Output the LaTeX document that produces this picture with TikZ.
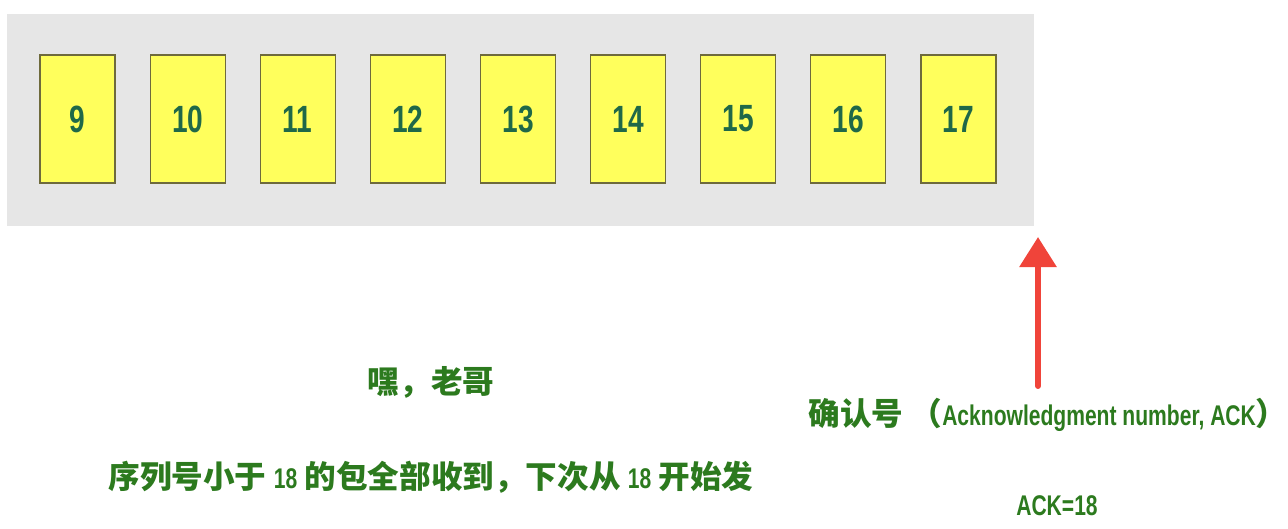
\documentclass[tikz,border=0pt]{standalone}
\usepackage{fontspec}
\newfontfamily\cjk{Noto Sans CJK SC}
\newfontfamily\latn{Liberation Sans}[Scale=0.9,FakeStretch=0.74]
\usetikzlibrary{arrows.meta,positioning}
\definecolor{winbg}{HTML}{E6E6E6}
\definecolor{pktfill}{HTML}{FFFF5C}
\definecolor{pktedge}{HTML}{6E6A3C}
\definecolor{pktnum}{HTML}{1F6848}
\definecolor{txtgreen}{HTML}{2C7A1E}
\definecolor{ackred}{HTML}{F0443A}

\begin{document}
\begin{tikzpicture}[>=Stealth,x=0.02cm,y=-0.02cm,
  pkt/.style={draw=pktedge,fill=pktfill,line width=0.6pt,minimum width=1.5cm,
    minimum height=2.56cm,inner sep=0pt,text=pktnum,
    font=\latn\bfseries\fontsize{24}{24}\selectfont},
  note/.style={text=txtgreen,inner sep=0pt,
    font=\cjk\bfseries\fontsize{18}{18}\selectfont}]
  \useasboundingbox (0,0) rectangle (1288,528);
  % window
  \node[fill=winbg,minimum width=20.54cm,minimum height=4.24cm,inner sep=0pt,
    anchor=north west] (win) at (7,14) {};
  % packets
  \foreach \n [count=\i from 0] in {9,...,17}
    \node[pkt] (p\n) at ({77.5+110.125*\i},119) {\n};
  % receiver text
  \node[note] (hey) at (431,382) {嘿，老哥};
  \node[note] (msg) at (431,477) {序列号小于 {\latn 18} 的包全部收到，下次从 {\latn 18} 开始发};
  % ack
  \node[note] (ackname) at (1048,415) {确认号 （{\latn Acknowledgment number, ACK}）};
  \node[note] (ackval) at (1057,506) {{\latn ACK=18}};
  \coordinate (tail) at (1038,386);
  \coordinate (tip) at (1038,237);
  \draw[ackred,line width=3.4pt,line cap=round,
    -{Triangle[width=0.72cm,length=0.6cm]}] (tail) -- (tip);
\end{tikzpicture}
\end{document}
